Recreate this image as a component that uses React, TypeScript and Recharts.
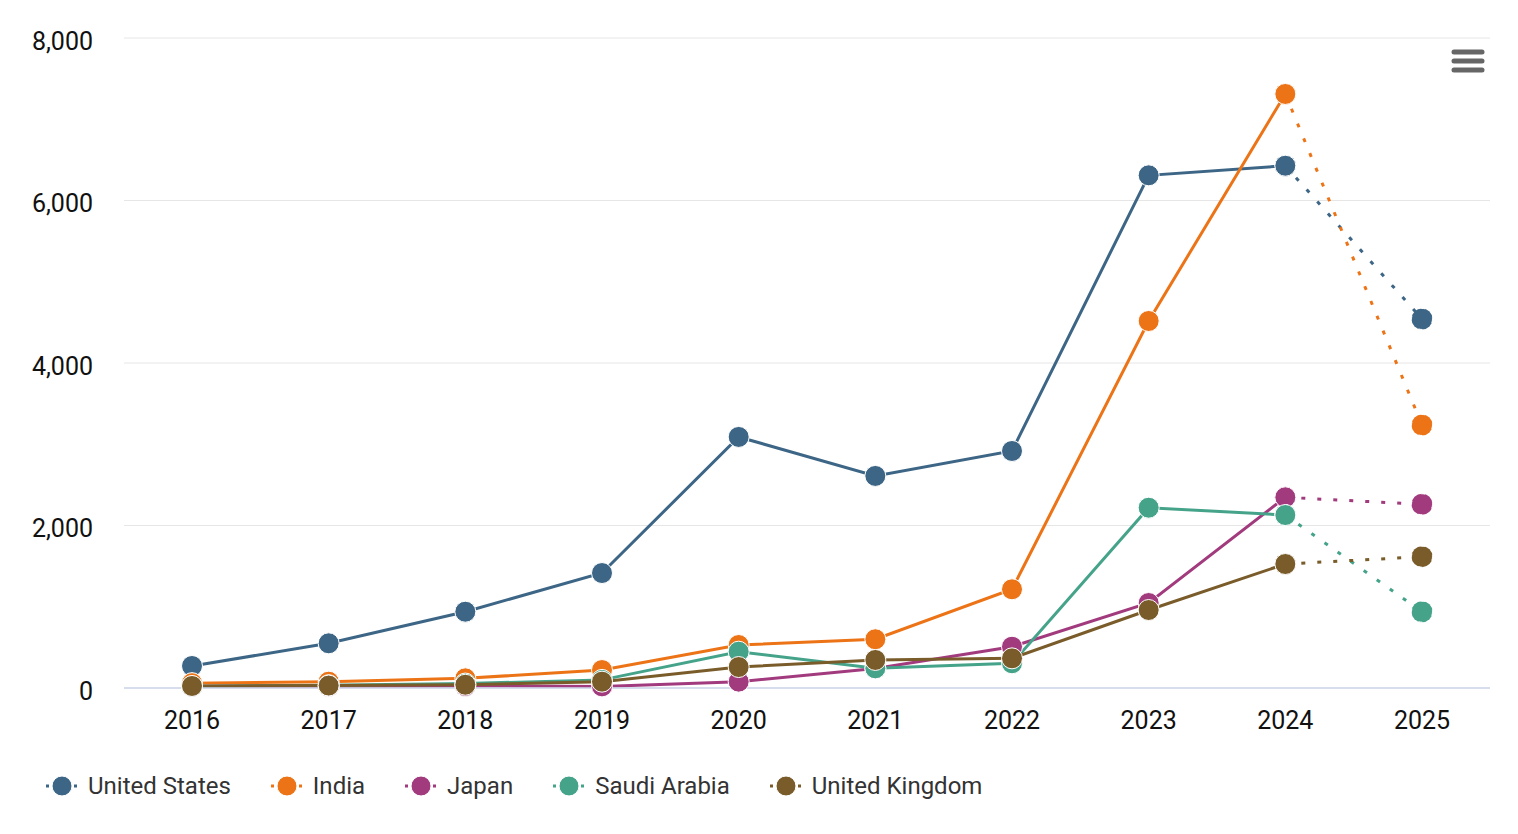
import React from 'react';
import { LineChart, Line, XAxis, YAxis, CartesianGrid } from 'recharts';

const years = ['2016', '2017', '2018', '2019', '2020', '2021', '2022', '2023', '2024', '2025'];

const unitedStates = [271, 550, 939, 1415, 3090, 2610, 2917, 6310, 6428, 4542];
const india = [60, 78, 119, 221, 529, 600, 1215, 4517, 7311, 3237];
const japan = [20, 22, 25, 20, 78, 240, 508, 1046, 2347, 2261];
const saudiArabia = [20, 35, 55, 100, 447, 242, 304, 2219, 2129, 939];
const unitedKingdom = [25, 30, 40, 78, 258, 345, 365, 960, 1526, 1616];

const yTicks = [0, 2000, 4000, 6000, 8000];

const series = [
  { key: 'us', name: 'United States', color: '#3d6686', values: unitedStates },
  { key: 'in', name: 'India', color: '#ec7417', values: india },
  { key: 'jp', name: 'Japan', color: '#a23a7e', values: japan },
  { key: 'sa', name: 'Saudi Arabia', color: '#45a38a', values: saudiArabia },
  { key: 'uk', name: 'United Kingdom', color: '#7a5c2a', values: unitedKingdom },
];

// solid part runs to 2024, the dotted part covers 2024 -> 2025
const lastSolid = years.indexOf('2024');

const data = years.map((year, i) => {
  const row: Record<string, string | number | null> = { year };
  series.forEach((s) => {
    row[s.key] = i <= lastSolid ? s.values[i] : null;
    row[s.key + 'F'] = i >= lastSolid ? s.values[i] : null;
  });
  return row;
});

const FONT = 'Roboto, sans-serif';

const LegendRow = () => (
  <div
    style={{
      position: 'absolute',
      left: 44,
      top: 772,
      display: 'flex',
      alignItems: 'center',
      fontFamily: FONT,
      fontSize: 24,
      color: '#333',
    }}
  >
    {series.map((s) => (
      <div key={s.key} style={{ display: 'flex', alignItems: 'center', marginRight: 38 }}>
        <svg width={36} height={24} style={{ marginRight: 8 }}>
          <line x1={2} y1={12} x2={34} y2={12} stroke={s.color} strokeWidth={3} strokeDasharray="3 4" />
          <circle cx={18} cy={12} r={10} fill={s.color} stroke="#fff" strokeWidth={1} />
        </svg>
        <span>{s.name}</span>
      </div>
    ))}
  </div>
);

const MenuIcon = () => (
  <svg width={36} height={30} style={{ position: 'absolute', left: 1450, top: 47 }}>
    {[5, 14, 23].map((y) => (
      <line key={y} x1={4} y1={y} x2={32} y2={y} stroke="#666" strokeWidth={5} strokeLinecap="round" />
    ))}
  </svg>
);

export default function App() {
  return (
    <div style={{ position: 'absolute', left: 0, top: 0, width: 1518, height: 834, background: '#fff' }}>
      <LineChart
        width={1518}
        height={834}
        data={data}
        margin={{ top: 38, right: 28, left: 0, bottom: 0 }}
      >
        <CartesianGrid vertical={false} stroke="#e6e6e6" strokeWidth={1} />
        <XAxis
          dataKey="year"
          height={146}
          padding={{ left: 68, right: 68 }}
          axisLine={{ stroke: '#ccd6eb', strokeWidth: 1.5 }}
          tickLine={false}
          tickSize={0}
          tickMargin={23}
          tick={{ fill: '#111', fontSize: 25, fontFamily: FONT }}
          interval={0}
        />
        <YAxis
          width={124}
          domain={[0, 8000]}
          ticks={yTicks}
          axisLine={false}
          tickLine={false}
          tickSize={0}
          tickMargin={31}
          tick={{ fill: '#111', fontSize: 25, fontFamily: FONT, dy: 3 }}
          tickFormatter={(v: number) => v.toLocaleString('en-US')}
        />
        {series.flatMap((s) => [
          <Line
            key={s.key + 'F'}
            dataKey={s.key + 'F'}
            stroke={s.color}
            strokeWidth={3}
            strokeDasharray="4 12"
            dot={{ r: 10.5, fill: s.color, stroke: '#fff', strokeWidth: 1 }}
            activeDot={false}
            isAnimationActive={false}
            legendType="none"
          />,
          <Line
            key={s.key}
            dataKey={s.key}
            name={s.name}
            stroke={s.color}
            strokeWidth={3}
            dot={{ r: 10.5, fill: s.color, stroke: '#fff', strokeWidth: 1 }}
            activeDot={false}
            isAnimationActive={false}
          />,
        ])}
      </LineChart>
      <MenuIcon />
      <LegendRow />
    </div>
  );
}
